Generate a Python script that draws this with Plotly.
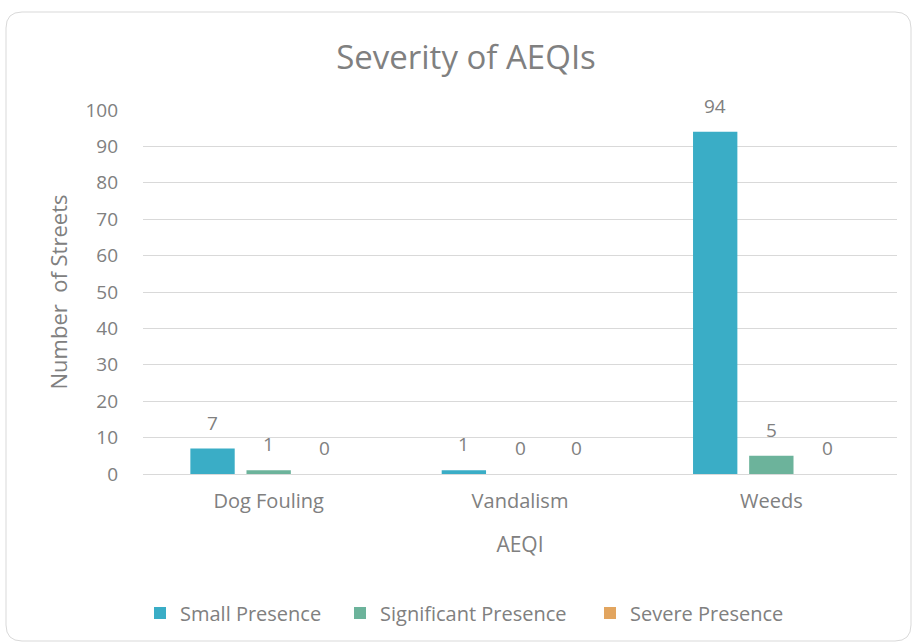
import plotly.graph_objects as go

categories = ["Dog Fouling", "Vandalism", "Weeds"]
small_presence = [7, 1, 94]
significant_presence = [1, 0, 5]
severe_presence = [0, 0, 0]
series_names = ["Small Presence", "Significant Presence", "Severe Presence"]
series_colors = ["#3AADC6", "#6CB39B", "#E2A55F"]
y_ticks = [0, 10, 20, 30, 40, 50, 60, 70, 80, 90, 100]

FONT = "'Open Sans', Lato, sans-serif"
GRAY = "#808080"

W, H = 913, 643
L, R, T, B = 143, 16, 110, 169
pw, ph = W - L - R, H - T - B

legend_ids = ["legend", "legend2", "legend3"]
legend_left_px = [140, 340, 590]

fig = go.Figure()
series = [small_presence, significant_presence, severe_presence]
for name, vals, col, lg in zip(series_names, series, series_colors, legend_ids):
    fig.add_trace(go.Bar(x=categories, y=vals, name=name, marker_color=col,
                         marker_line_width=0, legend=lg))

# value labels above bars
slot = pw / 3 * (1 - 0.33) / 3
for i, vals in enumerate(series):
    for c, v in zip(categories, vals):
        fig.add_annotation(x=c, y=v, text=str(v), showarrow=False,
                           xshift=(i - 1) * slot, yshift=26,
                           font=dict(family=FONT, size=19, color=GRAY))

def px_x(p):
    return (p - L) / pw

def px_y(p):
    return (H - B - p) / ph

x0, x1, y0, y1 = 6, 911, 12, 641
r = 16
path = (f"M {px_x(x0 + r)} {px_y(y0)} L {px_x(x1 - r)} {px_y(y0)} "
        f"Q {px_x(x1)} {px_y(y0)} {px_x(x1)} {px_y(y0 + r)} "
        f"L {px_x(x1)} {px_y(y1 - r)} Q {px_x(x1)} {px_y(y1)} {px_x(x1 - r)} {px_y(y1)} "
        f"L {px_x(x0 + r)} {px_y(y1)} Q {px_x(x0)} {px_y(y1)} {px_x(x0)} {px_y(y1 - r)} "
        f"L {px_x(x0)} {px_y(y0 + r)} Q {px_x(x0)} {px_y(y0)} {px_x(x0 + r)} {px_y(y0)} Z")
fig.add_shape(type="path", path=path, xref="paper", yref="paper",
              line=dict(color="#D9D9D9", width=1), layer="below")

legend_style = dict(orientation="h", xanchor="left", xref="container",
                    y=1 - 613 / H, yanchor="middle", yref="container",
                    font=dict(size=20, color=GRAY), itemwidth=30,
                    bgcolor="rgba(0,0,0,0)")
legends = {}
for lg, lx in zip(legend_ids, legend_left_px):
    legends[lg] = dict(legend_style, x=lx / W)

fig.update_layout(
    width=W, height=H,
    margin=dict(l=L, r=R, t=T, b=B, autoexpand=False),
    paper_bgcolor="white", plot_bgcolor="white",
    barmode="group", bargap=0.33, bargroupgap=0.21,
    title=dict(text="Severity of AEQIs", x=466 / W, xanchor="center",
               y=1 - 57 / H, yanchor="middle",
               font=dict(family=FONT, size=33, color=GRAY)),
    font=dict(family=FONT, color=GRAY),
    xaxis=dict(title=dict(text="AEQI", font=dict(size=21, color=GRAY), standoff=24),
               tickfont=dict(size=20, color=GRAY), showline=False, ticks="",
               showgrid=False, ticklabelstandoff=13),
    yaxis=dict(title=dict(text="Number \u00a0of Streets", font=dict(size=22, color=GRAY),
                          standoff=11),
               range=[0, 100], tickvals=y_ticks, tickfont=dict(size=19, color=GRAY),
               gridcolor="#D9D9D9", gridwidth=1, zeroline=True, zerolinecolor="#D9D9D9",
               zerolinewidth=1, showline=False, ticks="", ticklabelstandoff=24),
    showlegend=True,
    **legends,
)

fig.write_html("out.html", post_script="document.body.style.margin='0';",
               config={"displayModeBar": False})
